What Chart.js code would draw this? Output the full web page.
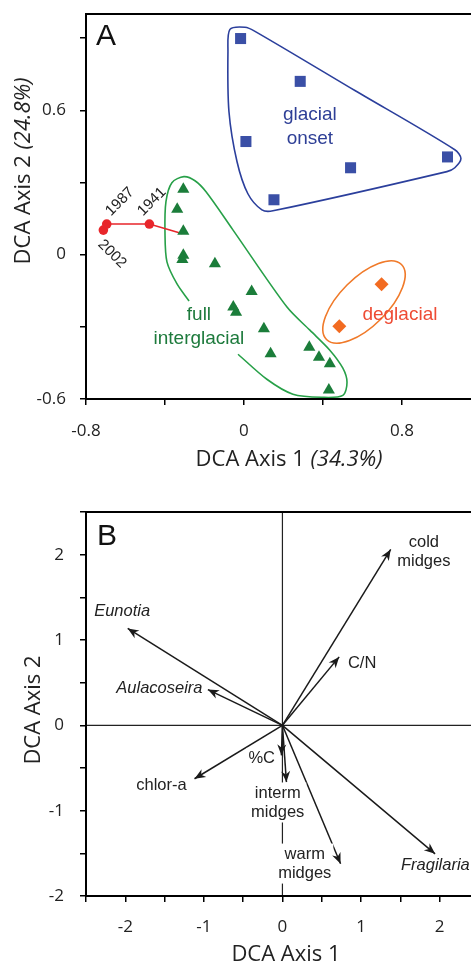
<!DOCTYPE html>
<html>
<head>
<meta charset="utf-8">
<script src="https://cdn.jsdelivr.net/npm/chart.js@4.4.1/dist/chart.umd.min.js"></script>
<style>
  html, body { margin: 0; padding: 0; background: #fff; }
  #wrapA { position: absolute; left: 0; top: 0; width: 471px; height: 482px; }
  #wrapB { position: absolute; left: 0; top: 482px; width: 471px; height: 483px; }
</style>
</head>
<body>
<div id="wrapA"><canvas id="chartA"></canvas></div>
<div id="wrapB"><canvas id="chartB"></canvas></div>
<script>
//PANEL A DATA (sample scores)
const glacialX = [-0.017, 0.285, 0.010, 0.540, 1.031, 0.152];
const glacialY = [0.898, 0.720, 0.470, 0.361, 0.406, 0.228];

const interX = [-0.307, -0.338, -0.307, -0.307, -0.312, -0.147, 0.039, -0.054, -0.040, 0.101, 0.135, 0.331, 0.380, 0.435, 0.430];
const interY = [0.272, 0.189, 0.0975, -0.003, -0.020, -0.0375, -0.153, -0.218, -0.239, -0.308, -0.412, -0.385, -0.426, -0.454, -0.5625];

const deglacX = [0.697, 0.483];
const deglacY = [-0.123, -0.298];

// recent samples, last point = pre-1941 sample it connects to
const recentX = [-0.712, -0.695, -0.479, -0.315];
const recentY = [0.102, 0.127, 0.127, 0.0875];

// group outlines
const blueHullX = [0.562, 1.068, 1.099, 1.068, 1.028, 0.147, 0.091, 0.020, -0.035, -0.076, -0.081, -0.071, 0.005, 0.056, 0.562];
const blueHullY = [0.682, 0.436, 0.399, 0.361, 0.345, 0.182, 0.186, 0.253, 0.386, 0.595, 0.845, 0.936, 0.945, 0.928, 0.682];
const greenHullX = [-0.030, 0.116, 0.248, 0.395, 0.501, 0.522, 0.501, 0.435, 0.334, 0.218, -0.056, -0.192, -0.248, -0.304, -0.365, -0.395, -0.400, -0.390, -0.339, -0.278];
const greenHullY = [-0.414, -0.518, -0.580, -0.593, -0.585, -0.530, -0.472, -0.397, -0.314, -0.218, 0.103, 0.261, 0.307, 0.324, 0.299, 0.220, 0.095, -0.030, -0.122, -0.193];

const xTicksA = [-0.8, 0, 0.8];
const yTicksA = [-0.6, 0, 0.6];

//PANEL B DATA (variable vectors)
const arrowNames = ["cold midges", "C/N", "Eunotia", "Aulacoseira", "chlor-a", "%C", "interm midges", "warm midges", "Fragilaria"];
const arrowX = [1.378, 0.722, -1.969, -0.949, -1.119, -0.013, 0.051, 0.740, 1.943];
const arrowY = [2.062, 0.802, 1.135, 0.419, -0.626, -0.352, -0.665, -1.623, -1.506];

const xTicksB = [-2, -1, 0, 1, 2];
const yTicksB = [-2, -1, 0, 1, 2];

const pts = (xs, ys) => xs.map((x, i) => ({ x: x, y: ys[i] }));
const tickLabel = list => v => {
  const t = list.find(t => Math.abs(t - v) < 1e-6);
  return t === undefined ? '' : String(t);
};

const TICKFONT = { family: 'Open Sans', size: 17 };
const LABELFONT = 'Liberation Sans';

function axisOpts(min, max, step, labels, pad, fit) {
  return {
    type: 'linear', min: min, max: max,
    ticks: { stepSize: step, includeBounds: false, autoSkip: false, maxRotation: 0,
             padding: pad, color: '#222', font: TICKFONT, callback: tickLabel(labels) },
    grid: { drawOnChartArea: false, tickLength: 6, color: '#000', lineWidth: 1.5 },
    border: { display: false },
    afterFit: s => {
      fit(s);
      s.paddingLeft = 0; s.paddingRight = 0; s.paddingTop = 0; s.paddingBottom = 0;
    }
  };
}

/* mixed regular + italic text, centred */
function mixedText(ctx, parts, x, y, rot, size) {
  ctx.save();
  ctx.translate(x, y);
  ctx.rotate(rot);
  let total = 0;
  parts.forEach(p => { ctx.font = (p[1] ? 'italic ' : '') + size + 'px "Open Sans"'; total += ctx.measureText(p[0]).width; });
  let cx = -total / 2;
  ctx.textBaseline = 'middle';
  ctx.fillStyle = '#222';
  parts.forEach(p => {
    ctx.font = (p[1] ? 'italic ' : '') + size + 'px "Open Sans"';
    ctx.fillText(p[0], cx, 0);
    cx += ctx.measureText(p[0]).width;
  });
  ctx.restore();
}

function frame(ctx, a) {
  ctx.save();
  ctx.strokeStyle = '#000';
  ctx.lineWidth = 2;
  ctx.beginPath();
  ctx.moveTo(a.right + 2, a.top);
  ctx.lineTo(a.left, a.top);
  ctx.lineTo(a.left, a.bottom);
  ctx.lineTo(a.right + 2, a.bottom);
  ctx.stroke();
  ctx.restore();
}

//PANEL A
const labelsA = [
  { lines: ['glacial', 'onset'], x: 0.334, y: 0.532, color: '#2e3f96' },
  { lines: ['full', 'interglacial'], x: -0.228, y: -0.301, color: '#1d7a3c' },
  { lines: ['deglacial'], x: 0.79, y: -0.251, color: '#ee4b34' }
];
const yearLabels = [
  { text: '2002', x: -0.668, y: 0.003, rot: Math.PI / 4 },
  { text: '1987', x: -0.628, y: 0.220, rot: -Math.PI / 4 },
  { text: '1941', x: -0.466, y: 0.220, rot: -Math.PI / 4 }
];

const panelA = {
  id: 'panelA',
  afterDatasetsDraw(chart) {
    const { ctx, chartArea: a, scales: { x, y } } = chart;
    // deglacial ellipse
    ctx.save();
    ctx.strokeStyle = '#f07a2a';
    ctx.lineWidth = 1.6;
    ctx.beginPath();
    ctx.ellipse(x.getPixelForValue(0.608), y.getPixelForValue(-0.197), 53, 24, -Math.PI / 4, 0, Math.PI * 2);
    ctx.stroke();
    // group labels
    ctx.font = '19px "' + LABELFONT + '"';
    ctx.textAlign = 'center';
    ctx.textBaseline = 'middle';
    labelsA.forEach(l => {
      ctx.fillStyle = l.color;
      const cx = x.getPixelForValue(l.x), cy = y.getPixelForValue(l.y);
      l.lines.forEach((t, i) => ctx.fillText(t, cx, cy + (i - (l.lines.length - 1) / 2) * 24));
    });
    // years
    ctx.font = '15px "' + LABELFONT + '"';
    ctx.fillStyle = '#222';
    yearLabels.forEach(l => {
      ctx.save();
      ctx.translate(x.getPixelForValue(l.x), y.getPixelForValue(l.y));
      ctx.rotate(l.rot);
      ctx.fillText(l.text, 0, 0);
      ctx.restore();
    });
    // panel letter
    ctx.font = '30px "' + LABELFONT + '"';
    ctx.textAlign = 'left';
    ctx.textBaseline = 'alphabetic';
    ctx.fillStyle = '#111';
    ctx.fillText('A', a.left + 10, a.top + 31);
    ctx.restore();
  },
  afterDraw(chart) {
    const { ctx, chartArea: a } = chart;
    frame(ctx, a);
    mixedText(ctx, [['DCA Axis 2 ', false], ['(24.8%)', true]], 24, 171, -Math.PI / 2, 22);
    mixedText(ctx, [['DCA Axis 1 ', false], ['(34.3%)', true]], 289, 460, 0, 22);
  }
};

new Chart(document.getElementById('chartA'), {
  type: 'scatter',
  data: {
    datasets: [
      { data: pts(glacialX, glacialY), pointStyle: 'rect', pointRadius: 7.8, backgroundColor: '#3a4fa6', borderWidth: 0, order: 0 },
      { data: pts(interX, interY), pointStyle: 'triangle', pointRadius: 7, backgroundColor: '#1b7d3a', borderWidth: 0, order: 0 },
      { data: pts(deglacX, deglacY), pointStyle: 'rectRot', pointRadius: 7, backgroundColor: '#f26b21', borderWidth: 0, order: 0 },
      { data: pts(recentX, recentY), showLine: true, borderColor: '#e8262b', borderWidth: 1.6,
        pointRadius: [4.8, 4.8, 4.8, 0], backgroundColor: '#e8262b', pointBorderWidth: 0, order: 1 },
      { data: pts(blueHullX, blueHullY), showLine: true, pointRadius: 0, borderColor: '#2b3f9c', borderWidth: 1.6, tension: 0.3, order: 2 },
      { data: pts(greenHullX, greenHullY), showLine: true, pointRadius: 0, borderColor: '#27a048', borderWidth: 1.6, tension: 0.3, order: 2 }
    ]
  },
  options: {
    responsive: true,
    maintainAspectRatio: false,
    animation: false,
    layout: { autoPadding: false, padding: { top: 14, left: 0, right: 0, bottom: 0 } },
    plugins: { legend: { display: false }, tooltip: { enabled: false } },
    scales: {
      x: axisOpts(-0.8, 1.15, 0.4, xTicksA, 16, s => { s.height = 83; }),
      y: axisOpts(-0.6, 1.0, 0.3, yTicksA, 14, s => { s.width = 86; })
    }
  },
  plugins: [panelA]
});

//PANEL B
const italicNames = ["Eunotia", "Aulacoseira", "Fragilaria"];
const labelsB = [
  { x: 1.80, y: 2.03, align: 'center' },
  { x: 0.833, y: 0.728, align: 'left' },
  { x: -2.04, y: 1.33, align: 'center' },
  { x: -1.017, y: 0.434, align: 'right' },
  { x: -1.54, y: -0.704, align: 'center' },
  { x: -0.264, y: -0.387, align: 'center' },
  { x: -0.06, y: -0.904, align: 'center' },
  { x: 0.284, y: -1.62, align: 'center' },
  { x: 1.509, y: -1.643, align: 'left' }
];

const panelB = {
  id: 'panelB',
  beforeDatasetsDraw(chart) {
    const { ctx, chartArea: a, scales: { x, y } } = chart;
    ctx.save();
    ctx.strokeStyle = '#222';
    ctx.lineWidth = 1.2;
    ctx.beginPath();
    ctx.moveTo(x.getPixelForValue(0), a.top);
    ctx.lineTo(x.getPixelForValue(0), a.bottom);
    ctx.moveTo(a.left, y.getPixelForValue(0));
    ctx.lineTo(a.right, y.getPixelForValue(0));
    ctx.stroke();
    ctx.restore();
  },
  afterDatasetsDraw(chart) {
    const { ctx, chartArea: a, scales: { x, y } } = chart;
    ctx.save();
    // labels with white backing
    ctx.textBaseline = 'middle';
    arrowNames.forEach((name, i) => {
      const l = labelsB[i];
      const lines = italicNames.includes(name) ? [name] : name.split(' ');
      ctx.font = (italicNames.includes(name) ? 'italic ' : '') + '16.5px "' + LABELFONT + '"';
      ctx.textAlign = l.align;
      const cx = x.getPixelForValue(l.x), cy = y.getPixelForValue(l.y);
      const w = Math.max(...lines.map(t => ctx.measureText(t).width));
      const lh = 19, h = lh * lines.length;
      const left = l.align === 'center' ? cx - w / 2 : l.align === 'right' ? cx - w : cx;
      ctx.fillStyle = '#fff';
      ctx.fillRect(left - 2, cy - h / 2 - 1, w + 4, h + 2);
      ctx.fillStyle = '#222';
      lines.forEach((t, k) => ctx.fillText(t, cx, cy + (k - (lines.length - 1) / 2) * lh));
    });
    // arrow heads
    const ox = x.getPixelForValue(0), oy = y.getPixelForValue(0);
    ctx.fillStyle = '#1a1a1a';
    arrowX.forEach((ax, i) => {
      const tx = x.getPixelForValue(ax), ty = y.getPixelForValue(arrowY[i]);
      const ang = Math.atan2(ty - oy, tx - ox);
      const dx = Math.cos(ang), dy = Math.sin(ang);
      const L = 11, W = 4.5;
      ctx.beginPath();
      ctx.moveTo(tx, ty);
      ctx.lineTo(tx - L * dx - W * dy, ty - L * dy + W * dx);
      ctx.lineTo(tx - 0.7 * L * dx, ty - 0.7 * L * dy);
      ctx.lineTo(tx - L * dx + W * dy, ty - L * dy - W * dx);
      ctx.closePath();
      ctx.fill();
    });
    ctx.font = '30px "' + LABELFONT + '"';
    ctx.textAlign = 'left';
    ctx.textBaseline = 'alphabetic';
    ctx.fillStyle = '#111';
    ctx.fillText('B', a.left + 11, a.top + 33);
    ctx.restore();
  },
  afterDraw(chart) {
    const { ctx, chartArea: a } = chart;
    frame(ctx, a);
    mixedText(ctx, [['DCA Axis 2', false]], 34, 228, -Math.PI / 2, 22);
    mixedText(ctx, [['DCA Axis 1', false]], 286, 473, 0, 22);
  }
};

new Chart(document.getElementById('chartB'), {
  type: 'scatter',
  data: {
    datasets: arrowX.map((ax, i) => ({
      data: [{ x: 0, y: 0 }, { x: ax, y: arrowY[i] }],
      showLine: true, pointRadius: 0, borderColor: '#1a1a1a', borderWidth: 1.5
    }))
  },
  options: {
    responsive: true,
    maintainAspectRatio: false,
    animation: false,
    layout: { autoPadding: false, padding: { top: 30, left: 0, right: 0, bottom: 0 } },
    plugins: { legend: { display: false }, tooltip: { enabled: false } },
    scales: {
      x: axisOpts(-2.5, 2.4, 0.5, xTicksB, 15, s => { s.height = 69; }),
      y: axisOpts(-2, 2.5, 0.5, yTicksB, 16, s => { s.width = 86; })
    }
  },
  plugins: [panelB]
});
</script>
</body>
</html>
